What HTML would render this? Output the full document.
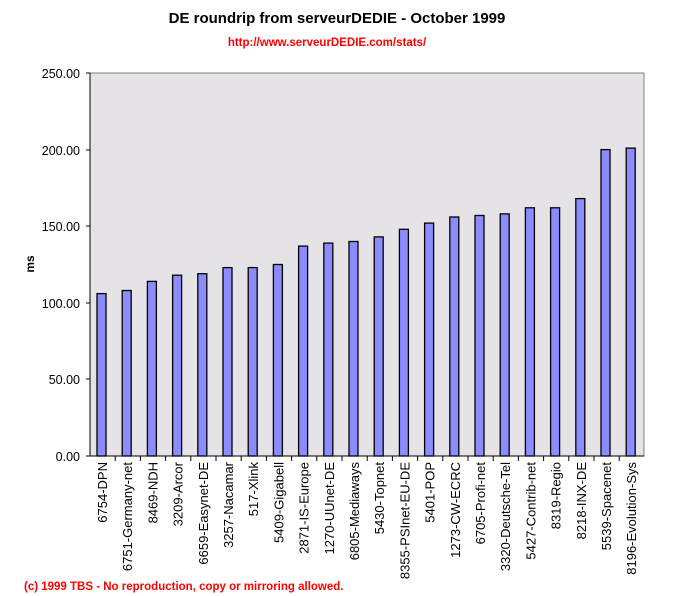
<!DOCTYPE html>
<html><head><meta charset="utf-8"><style>
body{margin:0;background:#fff;}
svg{display:block;font-family:"Liberation Sans",sans-serif;}
</style></head><body>
<svg width="674" height="596" xmlns="http://www.w3.org/2000/svg">
<text x="337" y="23" text-anchor="middle" font-size="15" font-weight="bold">DE roundrip from serveurDEDIE - October 1999</text>
<text x="327" y="46" text-anchor="middle" font-size="11.5" font-weight="bold" fill="#ff0000">http://www.serveurDEDIE.com/stats/</text>
<rect x="90" y="73" width="554" height="383" fill="#e6e3e6" stroke="#808080" stroke-width="1"/>
<line x1="90" y1="73" x2="90" y2="456" stroke="#000"/>
<line x1="90" y1="456" x2="644" y2="456" stroke="#000"/>
<g font-size="12.5" text-anchor="end">
<text x="80" y="78">250.00</text><line x1="86" y1="73" x2="90" y2="73" stroke="#000"/>
<text x="80" y="155">200.00</text><line x1="86" y1="150" x2="90" y2="150" stroke="#000"/>
<text x="80" y="231">150.00</text><line x1="86" y1="226" x2="90" y2="226" stroke="#000"/>
<text x="80" y="308">100.00</text><line x1="86" y1="303" x2="90" y2="303" stroke="#000"/>
<text x="80" y="384">50.00</text><line x1="86" y1="379" x2="90" y2="379" stroke="#000"/>
<text x="80" y="461">0.00</text><line x1="86" y1="456" x2="90" y2="456" stroke="#000"/>
</g>
<text transform="translate(34,264) rotate(-90)" text-anchor="middle" font-size="12" font-weight="bold">ms</text>
<g fill="#8c8cff" stroke="#000" stroke-width="1.3">
<rect x="97.0" y="293.6" width="9" height="162.4"/>
<rect x="122.2" y="290.5" width="9" height="165.5"/>
<rect x="147.4" y="281.4" width="9" height="174.6"/>
<rect x="172.6" y="275.2" width="9" height="180.8"/>
<rect x="197.8" y="273.7" width="9" height="182.3"/>
<rect x="223.0" y="267.6" width="9" height="188.4"/>
<rect x="248.2" y="267.6" width="9" height="188.4"/>
<rect x="273.4" y="264.5" width="9" height="191.5"/>
<rect x="298.6" y="246.1" width="9" height="209.9"/>
<rect x="323.8" y="243.1" width="9" height="212.9"/>
<rect x="349.0" y="241.5" width="9" height="214.5"/>
<rect x="374.2" y="236.9" width="9" height="219.1"/>
<rect x="399.4" y="229.3" width="9" height="226.7"/>
<rect x="424.6" y="223.1" width="9" height="232.9"/>
<rect x="449.8" y="217.0" width="9" height="239.0"/>
<rect x="475.0" y="215.5" width="9" height="240.5"/>
<rect x="500.2" y="213.9" width="9" height="242.1"/>
<rect x="525.4" y="207.8" width="9" height="248.2"/>
<rect x="550.6" y="207.8" width="9" height="248.2"/>
<rect x="575.8" y="198.6" width="9" height="257.4"/>
<rect x="601.0" y="149.6" width="9" height="306.4"/>
<rect x="626.2" y="148.1" width="9" height="307.9"/>
</g>
<g stroke="#000">
<line x1="115.2" y1="456" x2="115.2" y2="461"/><line x1="140.4" y1="456" x2="140.4" y2="461"/><line x1="165.6" y1="456" x2="165.6" y2="461"/><line x1="190.8" y1="456" x2="190.8" y2="461"/><line x1="216" y1="456" x2="216" y2="461"/><line x1="241.2" y1="456" x2="241.2" y2="461"/><line x1="266.4" y1="456" x2="266.4" y2="461"/><line x1="291.6" y1="456" x2="291.6" y2="461"/><line x1="316.8" y1="456" x2="316.8" y2="461"/><line x1="342" y1="456" x2="342" y2="461"/><line x1="367.2" y1="456" x2="367.2" y2="461"/><line x1="392.4" y1="456" x2="392.4" y2="461"/><line x1="417.6" y1="456" x2="417.6" y2="461"/><line x1="442.8" y1="456" x2="442.8" y2="461"/><line x1="468" y1="456" x2="468" y2="461"/><line x1="493.2" y1="456" x2="493.2" y2="461"/><line x1="518.4" y1="456" x2="518.4" y2="461"/><line x1="543.6" y1="456" x2="543.6" y2="461"/><line x1="568.8" y1="456" x2="568.8" y2="461"/><line x1="594" y1="456" x2="594" y2="461"/><line x1="619.2" y1="456" x2="619.2" y2="461"/>
</g>
<g font-size="13" text-anchor="end">
<text transform="translate(107,462) rotate(-90)">6754-DPN</text>
<text transform="translate(132.2,462) rotate(-90)">6751-Germany-net</text>
<text transform="translate(157.4,462) rotate(-90)">8469-NDH</text>
<text transform="translate(182.6,462) rotate(-90)">3209-Arcor</text>
<text transform="translate(207.8,462) rotate(-90)">6659-Easynet-DE</text>
<text transform="translate(233.0,462) rotate(-90)">3257-Nacamar</text>
<text transform="translate(258.2,462) rotate(-90)">517-Xlink</text>
<text transform="translate(283.4,462) rotate(-90)">5409-Gigabell</text>
<text transform="translate(308.6,462) rotate(-90)">2871-IS-Europe</text>
<text transform="translate(333.8,462) rotate(-90)">1270-UUnet-DE</text>
<text transform="translate(359.0,462) rotate(-90)">6805-Mediaways</text>
<text transform="translate(384.2,462) rotate(-90)">5430-Topnet</text>
<text transform="translate(409.4,462) rotate(-90)">8355-PSInet-EU-DE</text>
<text transform="translate(434.6,462) rotate(-90)">5401-POP</text>
<text transform="translate(459.8,462) rotate(-90)">1273-CW-ECRC</text>
<text transform="translate(485.0,462) rotate(-90)">6705-Profi-net</text>
<text transform="translate(510.2,462) rotate(-90)">3320-Deutsche-Tel</text>
<text transform="translate(535.4,462) rotate(-90)">5427-Contrib-net</text>
<text transform="translate(560.6,462) rotate(-90)">8319-Regio</text>
<text transform="translate(585.8,462) rotate(-90)">8218-INX-DE</text>
<text transform="translate(611.0,462) rotate(-90)">5539-Spacenet</text>
<text transform="translate(636.2,462) rotate(-90)">8196-Evolution-Sys</text>
</g>
<text x="24" y="590" font-size="11.5" font-weight="bold" fill="#ff0000">(c) 1999 TBS - No reproduction, copy or mirroring allowed.</text>
</svg>
</body></html>
